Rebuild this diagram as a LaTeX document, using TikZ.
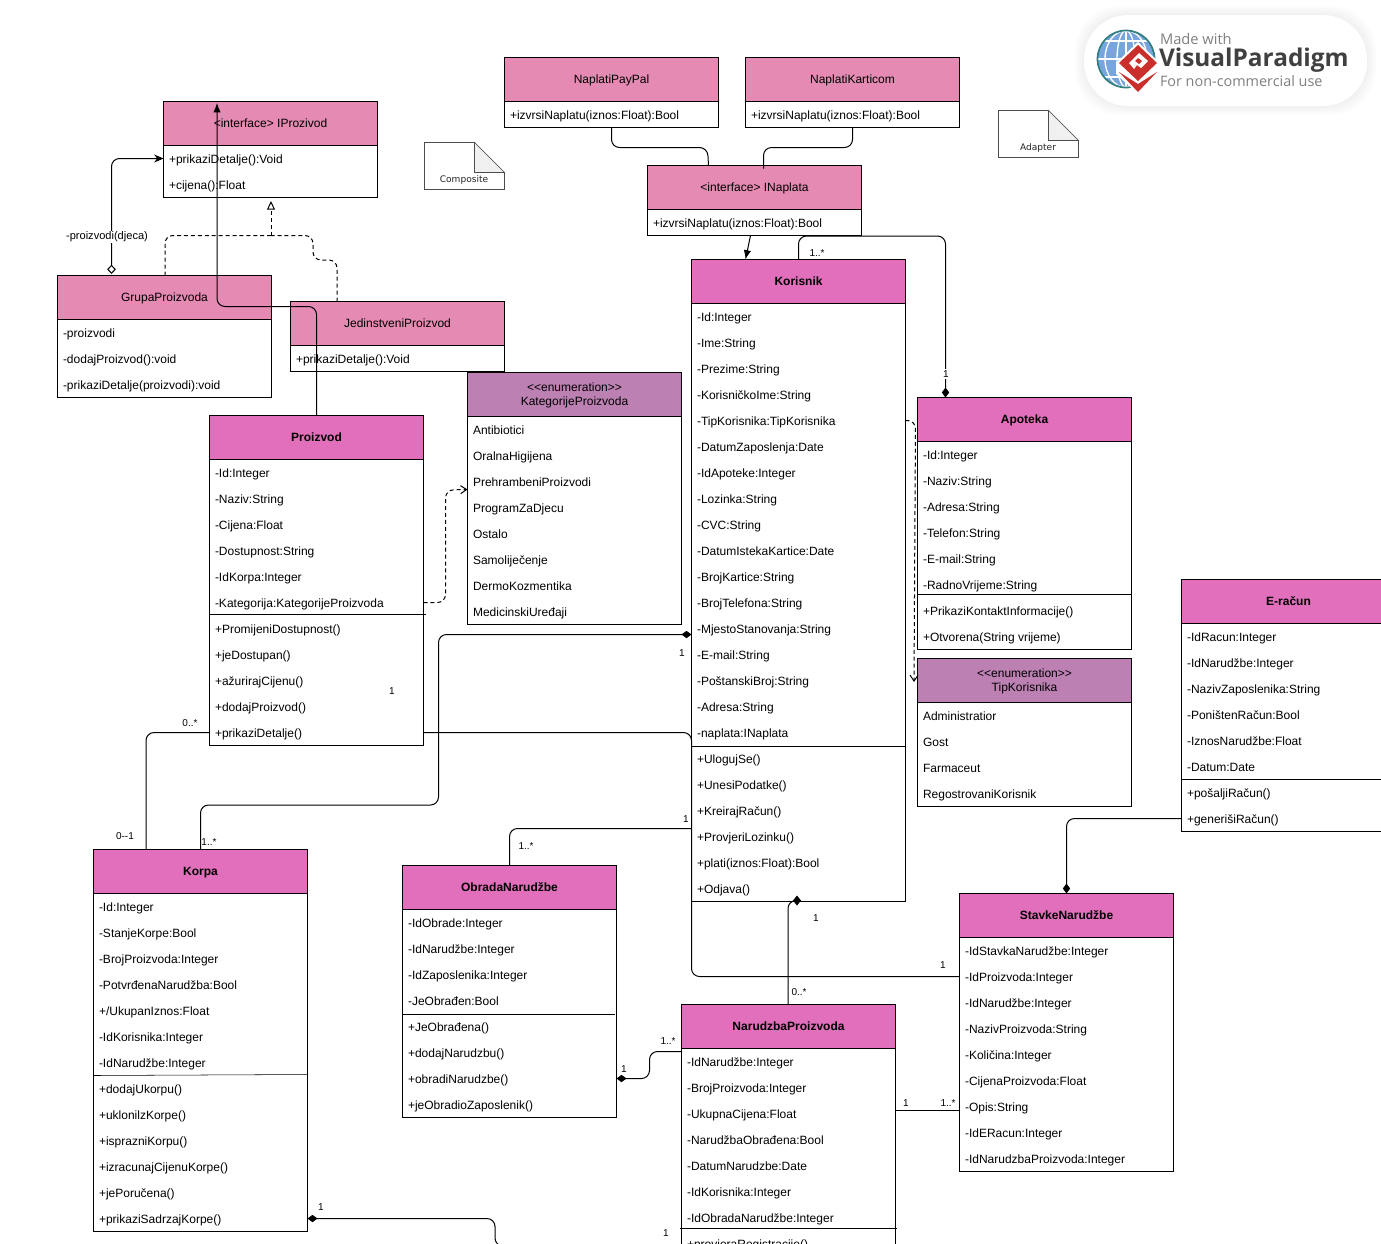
\documentclass[tikz,border=0pt]{standalone}
\usepackage{fontspec}
\setmainfont{Liberation Sans}
\newfontfamily\notefont{DejaVu Sans}
\newfontfamily\badgefont{Open Sans}
\usetikzlibrary{positioning, calc, arrows.meta, shapes.geometric}
\definecolor{interfacepink}{RGB}{229, 138, 178}
\definecolor{classpink}{RGB}{225, 111, 187}
\definecolor{enumpurple}{RGB}{188, 128, 179}
\definecolor{notegray}{RGB}{240, 240, 240}
\definecolor{badgered}{RGB}{201, 48, 44}
\tikzset{
    x=.75pt, y=-.75pt,
    every node/.style={font=\fontsize{9}{10.5}\selectfont, inner sep=0pt, outer sep=0pt},
    classhead/.style={draw, anchor=north west, minimum width=160.5pt,
        minimum height=33pt, align=center},
    interfacehead/.style={classhead, fill=interfacepink, text height=8pt, text depth=2pt},
    entityhead/.style={classhead, fill=classpink, text height=8pt, text depth=2pt,
        font=\fontsize{9}{10.5}\selectfont\bfseries},
    enumhead/.style={classhead, fill=enumpurple},
    classbody/.style={draw, fill=white, minimum width=160.5pt},
    member/.style={anchor=west, text height=8.8pt, text depth=2pt},
    connector/.style={draw, line width=.75pt, rounded corners=6pt},
    dashedlink/.style={connector, dashed, dash pattern=on 3pt off 2.2pt},
    filledtip/.style={-{Latex[length=7pt, width=5.5pt]}},
    thintip/.style={-{Stealth[length=7pt, width=6pt]}},
    openhead/.style={-{Straight Barb[length=4.5pt, width=6pt]}},
    opentriangle/.style={-{Triangle[open, fill=white, length=6.5pt, width=6pt]}},
    compositetip/.style={-{Diamond[length=7.5pt, width=5.5pt]}},
    aggregatetip/.style={-{Diamond[open, fill=white, length=7pt, width=6.5pt]}},
    mult/.style={font=\fontsize{7.5}{9}\selectfont},
    notetext/.style={font=\notefont\fontsize{6.8}{8}\selectfont, text=black!85},
}
% name, x, y, head style, title, body height, rows
\newcommand{\umlclass}[7]{
    \node[#4] (#1) at (#2,#3) {#5};
    \node[classbody, minimum height=#6*.75pt, below=0pt of #1] (#1body) {};
    \foreach \txt [count=\i from 0] in {#7}
        \node[member] (#1row\i) at ($(#1.south west)+(5.5,13+26*\i)$) {\txt};
}
% name, x, y, text
\newcommand{\umlnote}[4]{
    \draw[black!70, fill=white] (#2,#3) -- ++(50,0) -- ++(30,30) -- ++(0,17)
        -- ++(-80,0) -- cycle;
    \draw[black!70, fill=notegray] (#2+50,#3) -- ++(30,30) -- ++(-30,0) -- cycle;
    \node[notetext] (#1) at (#2+39.5,#3+37.5) {#4};
}
\newcommand{\enumtitle}[1]{\rule{0pt}{8pt}{<}{<}enumeration{>}{>}\\#1}

\begin{document}
\begin{tikzpicture}
    \clip (0,0) rectangle (1381,1243);
    \fill[white] (0,0) rectangle (1381,1243);

    % classes
    \umlclass{iprozivod}{163.5}{101.5}{interfacehead}{<interface> IProzivod}{52}
        {+prikaziDetalje():Void, +cijena():Float}
    \umlclass{grupa}{57.5}{275.5}{interfacehead}{GrupaProizvoda}{78}
        {-proizvodi, -dodajProizvod():void, -prikaziDetalje(proizvodi):void}
    \umlclass{jedinstveni}{290.5}{301.5}{interfacehead}{JedinstveniProizvod}{26}
        {+prikaziDetalje():Void}
    \umlclass{paypal}{504.5}{57.5}{interfacehead}{NaplatiPayPal}{26}
        {+izvrsiNaplatu(iznos:Float):Bool}
    \umlclass{kartica}{745.5}{57.5}{interfacehead}{NaplatiKarticom}{26}
        {+izvrsiNaplatu(iznos:Float):Bool}
    \umlclass{inaplata}{647.5}{165.5}{interfacehead}{<interface> INaplata}{26}
        {+izvrsiNaplatu(iznos:Float):Bool}
    \umlclass{proizvod}{209.5}{415.5}{entityhead}{Proizvod}{286}
        {-Id:Integer, -Naziv:String, -Cijena:Float, -Dostupnost:String,
        -IdKorpa:Integer, -Kategorija:KategorijeProizvoda, +PromijeniDostupnost(),
        +jeDostupan(), +ažurirajCijenu(), +dodajProizvod(), +prikaziDetalje()}
    \umlclass{kategorije}{467.5}{372.5}{enumhead}{\enumtitle{KategorijeProizvoda}}{208}
        {Antibiotici, OralnaHigijena, PrehrambeniProizvodi, ProgramZaDjecu, Ostalo,
        Samoliječenje, DermoKozmentika, MedicinskiUređaji}
    \umlclass{korisnik}{691.5}{259.5}{entityhead}{Korisnik}{598}
        {-Id:Integer, -Ime:String, -Prezime:String, -KorisničkoIme:String,
        -TipKorisnika:TipKorisnika, -DatumZaposlenja:Date, -IdApoteke:Integer,
        -Lozinka:String, -CVC:String, -DatumIstekaKartice:Date, -BrojKartice:String,
        -BrojTelefona:String, -MjestoStanovanja:String, -E-mail:String,
        -PoštanskiBroj:String, -Adresa:String, -naplata:INaplata, +UlogujSe(),
        +UnesiPodatke(), +KreirajRačun(), +ProvjeriLozinku(),
        +plati(iznos:Float):Bool, +Odjava()}
    \umlclass{apoteka}{917.5}{397.5}{entityhead}{Apoteka}{208}
        {-Id:Integer, -Naziv:String, -Adresa:String, -Telefon:String, -E-mail:String,
        -RadnoVrijeme:String, +PrikaziKontaktInformacije(), +Otvorena(String vrijeme)}
    \umlclass{tip}{917.5}{658.5}{enumhead}{\enumtitle{TipKorisnika}}{104}
        {Administratior, Gost, Farmaceut, RegostrovaniKorisnik}
    \umlclass{eracun}{1181.5}{579.5}{entityhead}{E-račun}{208}
        {-IdRacun:Integer, -IdNarudžbe:Integer, -NazivZaposlenika:String,
        -PoništenRačun:Bool, -IznosNarudžbe:Float, -Datum:Date, +pošaljiRačun(),
        +generišiRačun()}
    \umlclass{korpa}{93.5}{849.5}{entityhead}{Korpa}{338}
        {-Id:Integer, -StanjeKorpe:Bool, -BrojProizvoda:Integer,
        -PotvrđenaNarudžba:Bool, +/UkupanIznos:Float, -IdKorisnika:Integer,
        -IdNarudžbe:Integer, +dodajUkorpu(), +uklonilzKorpe(), +isprazniKorpu(),
        +izracunajCijenuKorpe(), +jePoručena(), +prikaziSadrzajKorpe()}
    \umlclass{obrada}{402.5}{865.5}{entityhead}{ObradaNarudžbe}{208}
        {-IdObrade:Integer, -IdNarudžbe:Integer, -IdZaposlenika:Integer,
        -JeObrađen:Bool, +JeObrađena(), +dodajNarudzbu(), +obradiNarudzbe(),
        +jeObradioZaposlenik()}
    \umlclass{narudzba}{681.5}{1004.5}{entityhead}{NarudzbaProizvoda}{260}
        {-IdNarudžbe:Integer, -BrojProizvoda:Integer, -UkupnaCijena:Float,
        -NarudžbaObrađena:Bool, -DatumNarudzbe:Date, -IdKorisnika:Integer,
        -IdObradaNarudžbe:Integer, +provjeraRegistracije()}
    \umlclass{stavke}{959.5}{893.5}{entityhead}{StavkeNarudžbe}{234}
        {-IdStavkaNarudžbe:Integer, -IdProizvoda:Integer, -IdNarudžbe:Integer,
        -NazivProizvoda:String, -Količina:Integer, -CijenaProizvoda:Float,
        -Opis:String, -IdERacun:Integer, -IdNarudzbaProizvoda:Integer}

    % separators
    \draw (209,614.5) -- (426,614.5);
    \draw (691,746) -- (906,746);
    \draw (917,594.5) -- (1131,594.5);
    \draw (1181,779.5) -- (1381,779.5);
    \draw (93,1075.5) -- (308,1074.5);
    \draw (402,1014.5) -- (615,1014.5);
    \draw (680,1228.5) -- (897,1228.5);

    % notes
    \umlnote{composite}{424.5}{142.5}{Composite}
    \umlnote{adapter}{998.5}{110.5}{Adapter}

    % connectors
    \coordinate (proizvodbend) at (217,306.5);
    \coordinate (proizvodarrow) at (217,103);
    \coordinate (iprozivodopen) at (271,201);
    \coordinate (dashedjoin) at (271,235.5);
    \coordinate (tiparrow) at (914,682);
    \coordinate (stavkeopis) at ($(stavkerow6.west -| stavkebody.west)+(0,4)$);
    \coordinate (korisnikmjesto) at ($(korisnikrow12.west -| korisnikbody.west)+(0,6)$);
    \coordinate (korisnikobrada) at ($(korisnikrow20.west -| korisnikbody.west)+(0,-8)$);
    \coordinate (narudzbakorpa) at (681,1246);

    \draw[connector, filledtip] (proizvod.north) |- (proizvodbend) -- (proizvodarrow);
    \draw[connector, thintip] ($(grupa.north west)+(54,-11)$)
        |- (iprozivodrow0.west -| iprozivodbody.west);
    \draw[connector, aggregatetip] ($(grupa.north west)+(54,-20)$) -- ($(grupa.north west)+(54,-1.5)$);
    \node[fill=white, font=\fontsize{8.3}{10}\selectfont, inner sep=1pt] (djecalabel) at (107,237) {-proizvodi(djeca)};
    \draw[dashedlink] ($(grupa.north west)+(107.5,0)$) |- (dashedjoin);
    \draw[dashedlink] ($(jedinstveni.north west)+(46.5,0)$) -- ++(0,-41.5)
        -- ++(-24,0) -- ++(0,-24.5) -- (dashedjoin);
    \draw[dashedlink, opentriangle] (dashedjoin) -- (iprozivodopen);

    \draw[connector] (paypal.south west |- paypalbody.south) ++(107,0) -- ++(0,20)
        -- ++(96,0) -- ($(inaplata.north west)+(61,0)$);
    \draw[connector] (karticabody.south) -- ++(0,20) -- ++(-89,0)
        -- ($(inaplata.north west)+(116,3)$);
    \draw[line width=.75pt, filledtip] ($(inaplatabody.south west)+(103,0)$)
        -- ($(korisnik.north west)+(54,0)$);
    \draw[connector, compositetip] (korisnik.north) |- ($(inaplatabody.south east)+(84,.5)$)
        -- ($(apoteka.north west)+(28,0)$);
    \node[mult, fill=white, inner sep=1pt] (korisnikapotekamany) at (817,253) {1..*};
    \node[mult, fill=white, inner sep=1.5pt] (korisnikapotekaone) at (946,374) {1};

    \draw[dashedlink, openhead] (proizvodrow5.west -| proizvodbody.east) -- ++(22,0)
        -- ++(0,-112.5) -- ($(kategorijebody.west |- kategorijerow2.west)+(0,8)$);
    \draw[dashedlink, openhead] ($(korisnikrow4.west -| korisnikbody.east)$) -- ++(10,0)
        -- (tiparrow);

    \draw[connector] (proizvodrow10.west -| proizvodbody.west) -| ($(korpa.north west)+(52.5,0)$);
    \node[mult] (proizvodkorpamany) at (190,723) {0..*};
    \node[mult] (proizvodkorpaone) at (125,836) {0-{}-1};

    \draw[connector, compositetip] (korpa.north) -- ++(0,-44.5) -- ++(238,0)
        |- (korisnikmjesto);
    \node[mult] (korpakorisnikmany) at (209,842) {1..*};
    \node[mult] (korpakorisnikone) at (682,653) {1};

    \draw[connector] (proizvodrow10.west -| proizvodbody.east)
        -- (proizvodrow10.west -| korisnikbody.west)
        -- (stavkerow1.west -| korisnikbody.west)
        -- (stavkerow1.west -| stavkebody.west);
    \node[mult] (proizvodstavkeleft) at (392,691) {1};
    \node[mult] (proizvodstavkeright) at (943,965) {1};

    \draw[connector] (korisnikobrada) -| (obrada.north);
    \node[mult] (korisnikobradaone) at (686,819) {1};
    \node[mult] (korisnikobradamany) at (526,846) {1..*};

    \node[diamond, fill=black, minimum width=6pt, minimum height=7.5pt] (korisnikdiamond) at (797,900.5) {};
    \draw[connector] ($(narudzba.north west)+(106.5,0)$) |- (korisnikdiamond);
    \node[mult] (korisnikone) at (816,918) {1};
    \node[mult] (narudzbamany) at (799,992) {0..*};

    \draw[connector, compositetip] (eracunrow7.west -| eracunbody.west) -| (stavke.north);

    \draw[connector, compositetip] ($(narudzba.south west)+(0,3)$) -- ++(-32,0) -- ++(0,27)
        -- (obradarow6.west -| obradabody.east);
    \node[mult] (narudzbaobradamany) at (668,1041) {1..*};
    \node[mult] (narudzbaobradaone) at (624,1069) {1};

    \draw[line width=.75pt] (stavkeopis -| narudzbabody.east) -- (stavkeopis);
    \node[mult] (narudzbastavkeone) at (906,1103) {1};
    \node[mult] (narudzbastavkemany) at (948,1103) {1..*};

    \draw[connector, compositetip] (narudzbakorpa) -| (495,1218.5)
        -- (korparow12.west -| korpabody.east);
    \node[mult] (korpanarudzbaleft) at (321,1207) {1};
    \node[mult] (korpanarudzbaright) at (666,1233) {1};

    % badge
    \foreach \d in {9,7,5,3,1}
        \fill[black, opacity=.012, rounded corners=34pt]
            (1084-\d,15-\d) rectangle (1367+\d,106+\d);
    \fill[white, rounded corners=33pt] (1084,15) rectangle (1367,106);
    \begin{scope}
        \clip (1126,59) circle[radius=28.5];
        \fill[cyan!55!blue!55!white] (1126,59) circle[radius=28.5];
        \foreach \w in {9,21}
            \draw[white, line width=1pt] (1126,59) ellipse[x radius=\w, y radius=28.5];
        \foreach \h in {41,59,77}
            \draw[white, line width=1pt] (1096,\h) -- (1156,\h);
        \draw[white, line width=1pt] (1126,30) -- (1126,88);
    \end{scope}
    \draw[teal!60!gray, line width=1.3pt] (1126,59) circle[radius=28.5];
    \fill[white] (1138,42) -- (1160,63) -- (1160,74) -- (1138,94) -- (1116,74) -- (1116,63) -- cycle;
    \fill[badgered] (1119,72) -- (1138,92) -- (1157,72) -- (1138,84) -- cycle;
    \fill[badgered] (1138,45) -- (1157,63) -- (1138,81) -- (1119,63) -- cycle;
    \fill[white] (1139,53) -- (1148,61) -- (1141,68) -- (1137,65) -- (1134,69) -- (1129,63) -- cycle;
    \fill[badgered] (1138,58) -- (1142,61) -- (1139,64) -- (1135,61) -- cycle;
    \node[anchor=west, text=black!50, font=\badgefont\fontsize{11}{12}\selectfont] (badgemade) at (1160,39) {Made with};
    \node[anchor=west, text=black!75, font=\badgefont\bfseries\fontsize{18.3}{20}\selectfont] (badgename) at (1159,60) {VisualParadigm};
    \node[anchor=west, text=black!50, font=\badgefont\fontsize{10.8}{12}\selectfont] (badgeuse) at (1160,81) {For non-commercial use};
\end{tikzpicture}
\end{document}
